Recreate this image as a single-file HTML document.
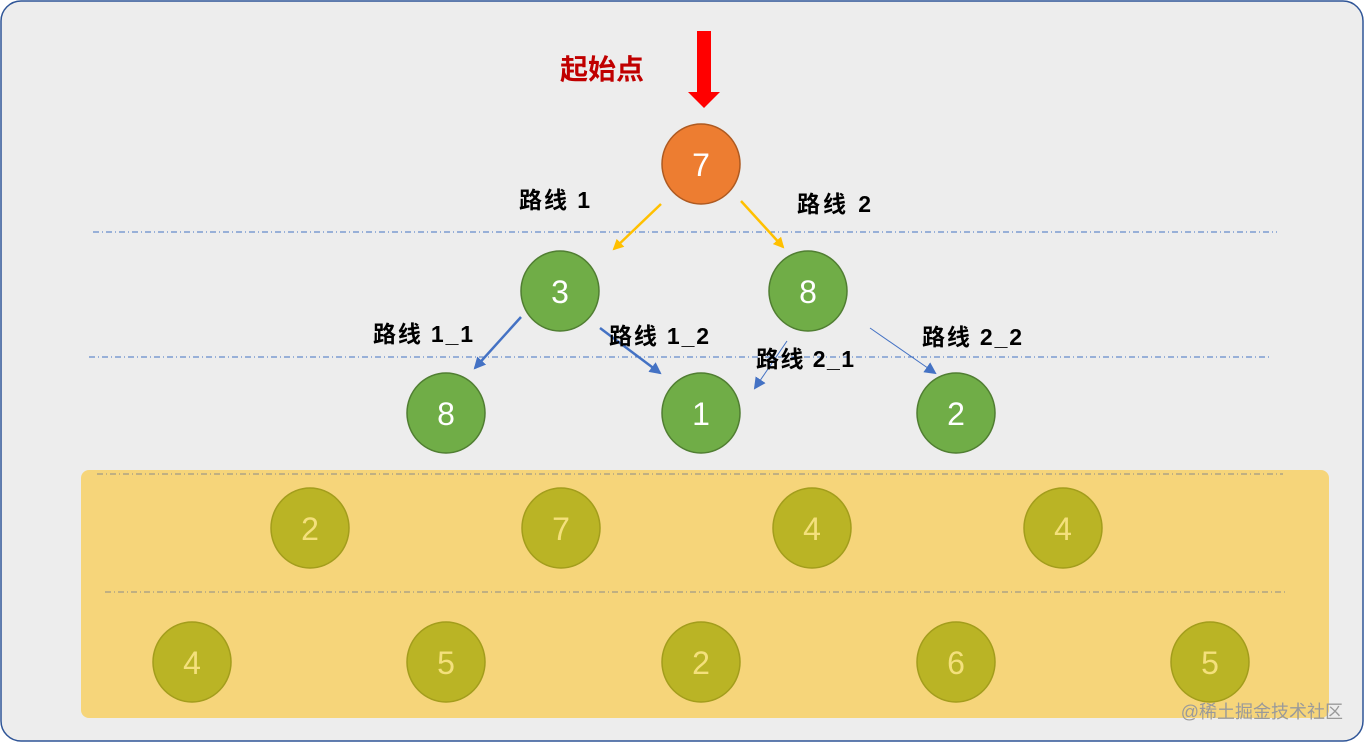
<!DOCTYPE html>
<html><head><meta charset="utf-8"><style>
html,body{margin:0;padding:0;background:#fff;}
svg{display:block;font-family:"Liberation Sans","Noto Sans CJK SC",sans-serif;}
</style></head><body>
<svg width="1365" height="743" viewBox="0 0 1365 743">
<defs>
<marker id="ay" markerWidth="11" markerHeight="11" refX="9" refY="5.5" orient="auto" markerUnits="userSpaceOnUse"><path d="M0,0 L11,5.5 L0,11 Z" fill="#ffc000"/></marker>
<marker id="ab" markerWidth="12" markerHeight="12" refX="10" refY="6" orient="auto" markerUnits="userSpaceOnUse"><path d="M0,0 L12,6 L0,12 Z" fill="#4472c4"/></marker>
</defs>
<rect x="1" y="1" width="1362" height="740" rx="20" fill="#ededed" stroke="#2f5597" stroke-width="1.5"/>
<rect x="81" y="470" width="1248" height="248" rx="8" fill="#f6d57a"/>
<g stroke="#4472c4" stroke-width="1" stroke-dasharray="6,3,1,3" fill="none">
<line x1="93" y1="232" x2="1277" y2="232"/>
<line x1="89" y1="357" x2="1272" y2="357"/>
<line x1="97" y1="474" x2="1283" y2="474" stroke="#8a8a8a"/>
<line x1="105" y1="592" x2="1288" y2="592" stroke="#8a8a8a"/>
</g>
<text x="602" y="79" font-size="28" font-weight="bold" fill="#c00000" text-anchor="middle">起始点</text>
<rect x="697" y="31" width="14" height="62" fill="#ff0000"/>
<path d="M688,92 L720,92 L704,108 Z" fill="#ff0000"/>
<ellipse cx="701" cy="164" rx="39" ry="40" fill="#ed7d31" stroke="#ae5a21" stroke-width="1.5"/>
<text x="701" y="176" font-size="32" fill="#fff" text-anchor="middle">7</text>
<g stroke="#ffc000" stroke-width="2.5" marker-end="url(#ay)">
<line x1="661" y1="204" x2="614" y2="249"/>
<line x1="741" y1="201" x2="783" y2="247"/>
</g>
<g stroke="#4472c4" marker-end="url(#ab)">
<line x1="521" y1="317" x2="475" y2="368" stroke-width="2.5"/>
<line x1="600" y1="328" x2="660" y2="373" stroke-width="2.5"/>
<line x1="787" y1="341" x2="755" y2="388" stroke-width="1"/>
<line x1="870" y1="328" x2="935" y2="373" stroke-width="1"/>
</g>
<g fill="#70ad47" stroke="#507e32" stroke-width="1.5">
<ellipse cx="560" cy="291" rx="39" ry="40"/><ellipse cx="808" cy="291" rx="39" ry="40"/>
<ellipse cx="446" cy="413" rx="39" ry="40"/><ellipse cx="701" cy="413" rx="39" ry="40"/><ellipse cx="956" cy="413" rx="39" ry="40"/>
</g>
<g font-size="32" fill="#fff" text-anchor="middle">
<text x="560" y="303">3</text><text x="808" y="303">8</text>
<text x="446" y="425">8</text><text x="701" y="425">1</text><text x="956" y="425">2</text>
</g>
<g font-size="23" font-weight="bold" fill="#000">
<text x="519" y="208" textLength="71">路线 1</text>
<text x="797" y="212" textLength="74">路线 2</text>
<text x="373" y="342" textLength="100">路线 1_1</text>
<text x="609" y="344" textLength="100">路线 1_2</text>
<text x="756" y="367" textLength="98">路线 2_1</text>
<text x="922" y="345" textLength="100">路线 2_2</text>
</g>
<g fill="#bab425" stroke="#a39d1c" stroke-width="1.5">
<ellipse cx="310" cy="528" rx="39" ry="40"/><ellipse cx="561" cy="528" rx="39" ry="40"/><ellipse cx="812" cy="528" rx="39" ry="40"/><ellipse cx="1063" cy="528" rx="39" ry="40"/>
<ellipse cx="192" cy="662" rx="39" ry="40"/><ellipse cx="446" cy="662" rx="39" ry="40"/><ellipse cx="701" cy="662" rx="39" ry="40"/><ellipse cx="956" cy="662" rx="39" ry="40"/><ellipse cx="1210" cy="662" rx="39" ry="40"/>
</g>
<g font-size="32" fill="#f4e07c" text-anchor="middle">
<text x="310" y="540">2</text><text x="561" y="540">7</text><text x="812" y="540">4</text><text x="1063" y="540">4</text>
<text x="192" y="674">4</text><text x="446" y="674">5</text><text x="701" y="674">2</text><text x="956" y="674">6</text><text x="1210" y="674">5</text>
</g>
<text x="1343" y="718" font-size="18" fill="#9a9a9a" text-anchor="end">@稀土掘金技术社区</text>
</svg>
</body></html>
